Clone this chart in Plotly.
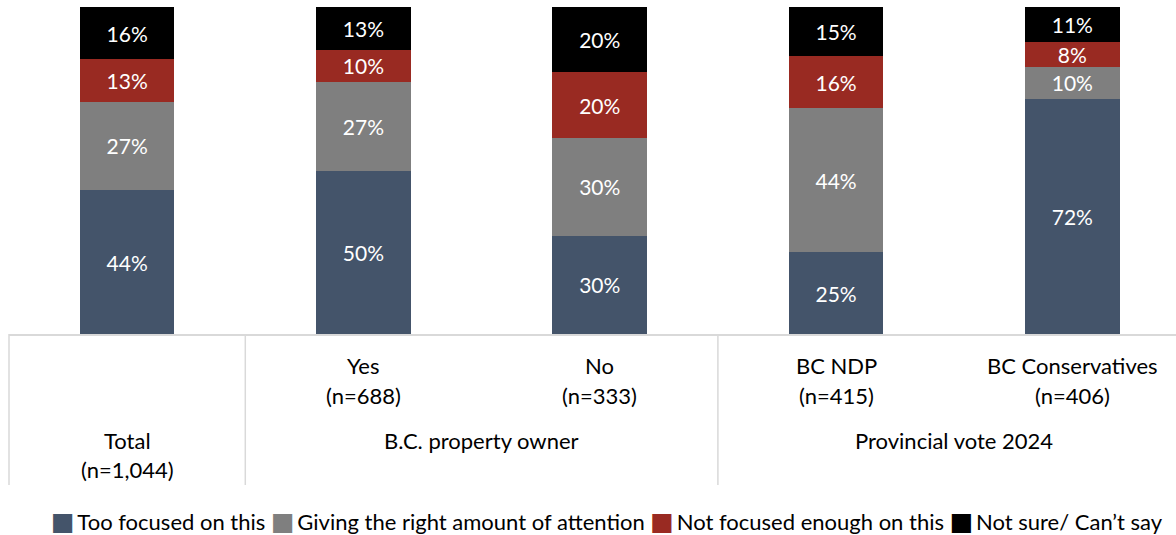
import plotly.graph_objects as go

categories = ["Total", "Yes", "No", "BC NDP", "BC Conservatives"]
sample_sizes = ["(n=1,044)", "(n=688)", "(n=333)", "(n=415)", "(n=406)"]
group_labels = ["B.C. property owner", "Provincial vote 2024"]

series_names = ["Too focused on this", "Giving the right amount of attention",
                "Not focused enough on this", "Not sure/ Can\u2019t say"]
too_focused = [44, 50, 30, 25, 71.8]
right_amount = [27, 27, 30, 44, 10.0]
not_enough = [13, 10, 20, 16, 7.6]
not_sure = [16, 13, 20, 15, 10.6]
colors = ["#44546A", "#7F7F7F", "#992A22", "#000000"]

FONT = "Lato"
W, H = 1176, 535
ML, MR, MT, MB = 9, 0, 7, 201
cat_w = 236.3
x_range = [-0.5, -0.5 + (W - ML - MR) / cat_w]
plot_h = H - MT - MB

def px_to_paper_y(py):
    return (H - MB - py) / plot_h

def cat_to_paper_x(v):
    return (v - x_range[0]) / (x_range[1] - x_range[0])

fig = go.Figure()
xs = list(range(len(categories)))
for name, vals, col in zip(series_names, [too_focused, right_amount, not_enough, not_sure], colors):
    fig.add_trace(go.Bar(
        x=xs, y=vals, name=name, marker=dict(color=col, line=dict(width=0)),
        width=0.4, text=[f"{round(v)}%" for v in vals], textposition="inside",
        insidetextanchor="middle", textangle=0, constraintext="none",
        textfont=dict(color="white", size=21, family=FONT), showlegend=False,
        hoverinfo="skip"))

fig.update_layout(
    barmode="stack", width=W, height=H,
    margin=dict(l=ML, r=MR, t=MT, b=MB, pad=0),
    plot_bgcolor="white", paper_bgcolor="white",
    font=dict(family=FONT, size=22, color="#000000"),
    xaxis=dict(range=x_range, showticklabels=False, showgrid=False, zeroline=False,
               showline=True, linecolor="#D9D9D9", linewidth=1.5, ticks=""),
    yaxis=dict(range=[0, 100], visible=False),
)

# table lines
line_style = dict(color="#D9D9D9", width=1.5)
for b in [-0.5, 0.5, 2.5]:
    xp = cat_to_paper_x(b)
    fig.add_shape(type="line", xref="paper", yref="paper", x0=xp, x1=xp,
                  y0=0, y1=px_to_paper_y(485), line=line_style)

# category labels
for i, (c, n) in enumerate(zip(categories, sample_sizes)):
    if i == 0:
        y1, y2 = 440, 470
    else:
        y1, y2 = 365, 395
    for txt, py in [(c, y1), (n, y2)]:
        fig.add_annotation(x=i, xref="x", y=px_to_paper_y(py), yref="paper",
                           text=txt, showarrow=False, xanchor="center", yanchor="middle",
                           font=dict(size=22, family=FONT, color="#000000"))

for g, (a, b) in zip(group_labels, [(0.5, 2.5), (2.5, 4.5)]):
    fig.add_annotation(x=(a + b) / 2, xref="x", y=px_to_paper_y(440), yref="paper",
                       text=g, showarrow=False, xanchor="center", yanchor="middle",
                       font=dict(size=22, family=FONT, color="#000000"))

# legend
parts = []
for name, col in zip(series_names, colors):
    parts.append(f"<span style='color:{col};font-family:DejaVu Sans;font-size:25px'>\u25A0</span>\u2009{name}")
fig.add_annotation(x=603 / W, xref="paper", y=px_to_paper_y(521), yref="paper",
                   text="\u00a0".join(parts), showarrow=False, xanchor="center", yanchor="middle",
                   font=dict(size=22, family=FONT, color="#000000"))

fig.write_html("out.html", config={"displayModeBar": False},
               post_script="document.body.style.margin='0px';")
